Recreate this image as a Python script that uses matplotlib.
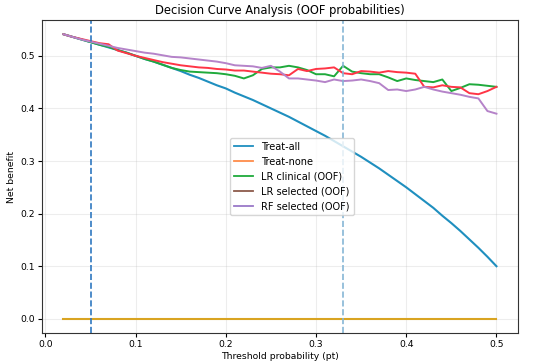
import matplotlib
matplotlib.use('Agg')
import matplotlib.pyplot as plt
from matplotlib.lines import Line2D
import numpy as np

# --------------------------------------------------------------------------------------
# Data

thresholds = [0.02, 0.03, 0.04, 0.05, 0.06, 0.07, 0.08, 0.09, 0.10,
              0.11, 0.12, 0.13, 0.14, 0.15, 0.16, 0.17, 0.18, 0.19, 0.20,
              0.21, 0.22, 0.23, 0.24, 0.25, 0.26, 0.27, 0.28, 0.29, 0.30,
              0.31, 0.32, 0.33, 0.34, 0.35, 0.36, 0.37, 0.38, 0.39, 0.40,
              0.41, 0.42, 0.43, 0.44, 0.45, 0.46, 0.47, 0.48, 0.49, 0.50]

treat_all = [.541, .536, .531, .526, .521, .516, .511, .506, .500,
             .494, .489, .483, .477, .471, .464, .458, .451, .444, .438,
             .430, .423, .416, .408, .400, .392, .384, .375, .366, .357,
             .348, .338, .328, .318, .308, .297, .286, .274, .262, .250,
             .237, .224, .211, .196, .182, .167, .151, .135, .118, .100]

treat_none = [0.0] * len(thresholds)

lr_clinical = [.541, .536, .531, .526, .521, .517, .511, .506, .500,
               .494, .489, .483, .477, .473, .470, .469, .468, .467, .465,
               .462, .457, .463, .475, .478, .478, .481, .478, .473, .465,
               .465, .461, .481, .470, .467, .465, .465, .459, .452, .457,
               .454, .452, .450, .455, .433, .439, .446, .445, .443, .441]

lr_selected = [.541, .536, .532, .528, .524, .522, .510, .505, .500,
               .496, .492, .488, .485, .482, .480, .478, .477, .475, .474,
               .472, .472, .470, .468, .466, .465, .463, .475, .471, .475,
               .476, .478, .467, .465, .471, .470, .468, .471, .469, .468,
               .466, .441, .440, .444, .441, .440, .429, .427, .433, .441]

rf_selected = [.541, .536, .531, .527, .523, .519, .515, .512, .509,
               .506, .504, .501, .498, .497, .495, .493, .491, .489, .486,
               .482, .481, .480, .477, .481, .470, .457, .457, .455, .453,
               .450, .455, .452, .453, .455, .452, .448, .435, .436, .433,
               .436, .441, .436, .432, .429, .426, .422, .419, .395, .390]

cut_low  = 0.05
cut_high = 0.33

labels = ['Treat-all', 'Treat-none', 'LR clinical (OOF)', 'LR selected (OOF)', 'RF selected (OOF)']

# --------------------------------------------------------------------------------------
# Chart

plt.rcParams['font.family'] = 'DejaVu Sans'

fig = plt.figure(figsize=(5.5, 3.64), dpi=100)
ax = fig.add_axes([0.076, 0.085, 0.866, 0.86])

ax.plot(thresholds, treat_all,   color='#1f8fbf', linewidth=1.5)
ax.plot(thresholds, treat_none,  color='#d9a421', linewidth=1.5)
ax.plot(thresholds, lr_clinical, color='#1faa3c', linewidth=1.4)
ax.plot(thresholds, lr_selected, color='#ff3546', linewidth=1.4)
ax.plot(thresholds, rf_selected, color='#b583c9', linewidth=1.4)

ax.axvline(cut_low,  color='#2f78c0', linestyle='--', linewidth=1.2)
ax.axvline(cut_high, color='#86b6d6', linestyle='--', linewidth=1.2)

ax.grid(True, alpha=0.22)
for s in ax.spines.values():
    s.set_color('#333333')

ax.set_title('Decision Curve Analysis (OOF probabilities)', fontsize=8.3, pad=4)
ax.set_xlabel('Threshold probability (pt)', fontsize=6.7, labelpad=2)
ax.set_ylabel('Net benefit', fontsize=6.7, labelpad=3)
ax.tick_params(labelsize=6.7, length=3, pad=2)

ax.set_xticks(np.arange(0, 0.51, 0.1))
ax.set_yticks(np.arange(0, 0.51, 0.1))

# legend colours as shown in the reference legend
leg_cols = ['#1f8fbf', '#ff8c4a', '#1faa3c', '#8c5a4b', '#9a78c8']
handles = [Line2D([0], [0], color=c, linewidth=1.3) for c in leg_cols]
ax.legend(handles, labels, loc='center', bbox_to_anchor=(0.525, 0.5), fontsize=7,
          framealpha=0.8)

plt.savefig('out.png', dpi=100)
